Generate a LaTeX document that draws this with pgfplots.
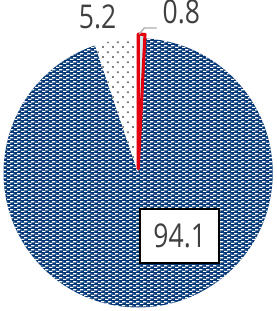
\documentclass[border=0pt]{standalone}
\usepackage{pgfplots}
\pgfplotsset{compat=1.18}
\usepackage{pgfplotstable}
\usetikzlibrary{patterns}
\usepackage{fontspec}
\setmainfont{Open Sans}[FakeStretch=0.81]
\definecolor{pieblue}{HTML}{053878}
\definecolor{lightcyan}{HTML}{CFE6E9}
\definecolor{labgray}{HTML}{404040}
\definecolor{dotgray}{HTML}{7F7F7F}
\definecolor{redline}{HTML}{E3000F}
\pgfdeclarepatternformonly{mybrickdash}{\pgfpointorigin}{\pgfpoint{7bp}{4bp}}{\pgfpoint{7bp}{4bp}}{%
  \pgfpathrectangle{\pgfpoint{0bp}{0bp}}{\pgfpoint{3.6bp}{1.3bp}}%
  \pgfpathrectangle{\pgfpoint{3.5bp}{2bp}}{\pgfpoint{3.5bp}{1.3bp}}%
  \pgfpathrectangle{\pgfpoint{0bp}{2bp}}{\pgfpoint{0.1bp}{1.3bp}}%
  \pgfusepath{fill}}
\pgfdeclarepatternformonly{mysparsedots}{\pgfpointorigin}{\pgfpoint{10bp}{10bp}}{\pgfpoint{10bp}{10bp}}{%
  \pgfpathrectangle{\pgfpoint{0bp}{0bp}}{\pgfpoint{2bp}{2bp}}%
  \pgfpathrectangle{\pgfpoint{5bp}{5bp}}{\pgfpoint{2bp}{2bp}}%
  \pgfusepath{fill}}
\pgfplotstableread{
label value
a 0.8
b 94.1
c 5.2
}\piedata
\pgfplotstablegetelem{0}{value}\of\piedata \let\va\pgfplotsretval
\pgfplotstablegetelem{1}{value}\of\piedata \let\vb\pgfplotsretval
\pgfplotstablegetelem{2}{value}\of\piedata \let\vc\pgfplotsretval
\pgfmathsetmacro{\tot}{\va+\vb+\vc}
\pgfmathsetmacro{\aA}{90}
\pgfmathsetmacro{\aB}{90-(\va/\tot)*360}
\pgfmathsetmacro{\aC}{\aB-(\vb/\tot)*360}
\pgfmathsetmacro{\aD}{\aC-(\vc/\tot)*360}
\pgfmathsetmacro{\aMid}{(\aA+\aB)/2}
\begin{document}
\begin{tikzpicture}
\begin{axis}[hide axis, x=1bp, y=1bp, xmin=0, xmax=273, ymin=0, ymax=311, scale only axis, clip=false]
% 94.1 slice
\fill[pieblue] (axis cs:140,133) -- ++(\aB:131bp) arc[start angle=\aB, end angle=\aC, radius=131bp] -- cycle;
\fill[pattern=mybrickdash, pattern color=white] (axis cs:140,133) -- ++(\aB:131bp) arc[start angle=\aB, end angle=\aC, radius=131bp] -- cycle;
% 5.2 slice
\fill[white] (axis cs:140,133) -- ++(\aC:131bp) arc[start angle=\aC, end angle=\aD, radius=131bp] -- cycle;
\fill[pattern=mysparsedots, pattern color=dotgray] (axis cs:140,133) -- ++(\aC:131bp) arc[start angle=\aC, end angle=\aD, radius=131bp] -- cycle;
% 0.8 slice (exploded)
\filldraw[fill=lightcyan, draw=redline, line width=3bp, line join=round, shift={(\aMid:4bp)}] (axis cs:140,133) -- ++(\aA:131bp) arc[start angle=\aA, end angle=\aB, radius=131bp] -- cycle;
% leader
\draw[gray!65, line width=1.3bp] (axis cs:141,268) -- (axis cs:146,274) -- (axis cs:158,274);
% labels
\node[font=\fontsize{32}{36}\selectfont, text=labgray, inner sep=0] at (axis cs:100.5,284.5) {5.2};
\node[font=\fontsize{32}{36}\selectfont, text=labgray, inner sep=0] at (axis cs:182,289.5) {0.8};
\node[draw=black, line width=2bp, fill=white, minimum width=77bp, minimum height=53bp, inner sep=0, font=\fontsize{32}{36}\selectfont, text=labgray] at (axis cs:180.5,71.5) {94.1};
\end{axis}
\end{tikzpicture}
\end{document}
